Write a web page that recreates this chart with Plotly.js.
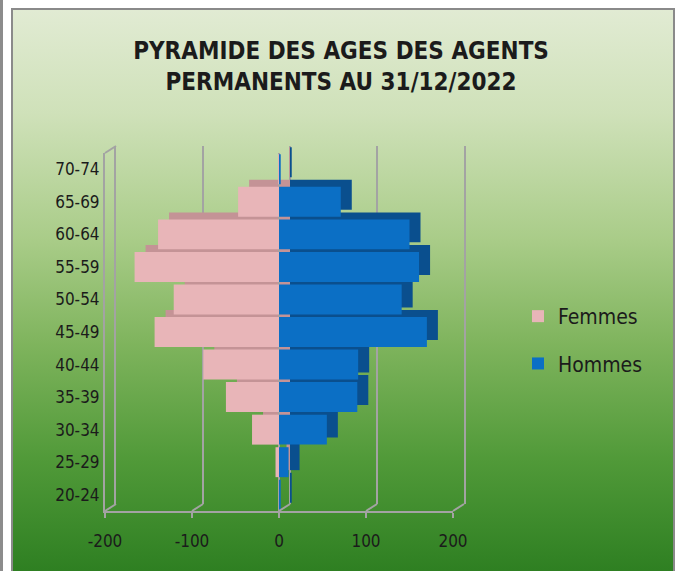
<!DOCTYPE html>
<html>
<head>
<meta charset="utf-8">
<script src="https://cdn.plot.ly/plotly-3.0.1.min.js"></script>
<style>
  html, body { margin:0; padding:0; background:#ffffff; }
  #wrap { position:relative; width:678px; height:571px; overflow:hidden; background:#ffffff; }
  #leftedge { position:absolute; left:0; top:0; width:3px; height:571px; background:#8c8c8c; }
  #box { position:absolute; left:11px; top:8px; width:660px; height:575px;
         border:2px solid #8a8a8a;
         background:linear-gradient(to bottom, #e1ebd3 0%, #cfe1b9 18%, #a9cc88 40%, #7fb45d 58%, #519a39 78%, #2a7c1f 100%); }
  #chart { position:absolute; left:0; top:0; width:678px; height:571px; }
</style>
</head>
<body>
<div id="wrap">
  <div id="leftedge"></div>
  <div id="box"></div>
  <div id="chart"></div>
</div>
<script>
// ---- data ----
const ages   = ['20-24','25-29','30-34','35-39','40-44','45-49','50-54','55-59','60-64','65-69','70-74'];
const femmes = [0, -4, -31, -61, -87, -143, -121, -166, -139, -47, -1];
const hommes = [2, 11, 55, 90, 91, 170, 141, 161, 150, 71, 2];
const xTicks = [-200, -100, 0, 100, 200];
const xTickText = ['-200', '-100', '0', '100', '200'];

// ---- styling / layout constants ----
const W = 678, H = 571;
const XR = [-200, 200];
const front = {x0:105, x1:453, y0:153, y1:511};
const back  = {x0:116, x1:464, y0:146, y1:504};
const pink = '#e8b5b8', pinkDark = '#c49396';
const blue = '#0b6fc5', blueDark = '#0a4f8e';
const grid = '#a3a3a3';
const fontFam = '"Liberation Sans Narrow", "Arial Narrow", "DejaVu Sans Condensed", sans-serif';

function fx(p){ return p / W; }
function fy(p){ return 1 - p / H; }
function xpx(plane, v){ return plane.x0 + (v - XR[0]) / (XR[1] - XR[0]) * (plane.x1 - plane.x0); }

const traces = [
  {type:'bar', orientation:'h', x:femmes, y:ages, xaxis:'x', yaxis:'y',
   marker:{color:pinkDark}, showlegend:false, hoverinfo:'skip'},
  {type:'bar', orientation:'h', x:hommes, y:ages, xaxis:'x', yaxis:'y',
   marker:{color:blueDark}, showlegend:false, hoverinfo:'skip'},
  {type:'bar', orientation:'h', x:femmes, y:ages, xaxis:'x2', yaxis:'y2',
   name:'Femmes', legendgroup:'f', marker:{color:pink}},
  {type:'bar', orientation:'h', x:hommes, y:ages, xaxis:'x2', yaxis:'y2',
   name:'Hommes', legendgroup:'h', marker:{color:blue}}
];

const shapes = [];
// left wall top connector
shapes.push({type:'line', xref:'paper', yref:'paper',
  x0:fx(front.x0), y0:fy(front.y0), x1:fx(back.x0), y1:fy(back.y0),
  line:{color:grid, width:2}});
// floor connectors at each tick
xTicks.forEach(t => {
  shapes.push({type:'line', xref:'paper', yref:'paper',
    x0:fx(xpx(back, t)), y0:fy(back.y1), x1:fx(xpx(front, t)), y1:fy(front.y1),
    line:{color:grid, width:2}});
});

const layout = {
  width:W, height:H,
  margin:{l:0, r:0, t:0, b:0},
  paper_bgcolor:'rgba(0,0,0,0)',
  plot_bgcolor:'rgba(0,0,0,0)',
  barmode:'relative',
  bargap:0.08,
  title:{text:'PYRAMIDE DES AGES DES AGENTS<br>PERMANENTS AU 31/12/2022',
         x:0.503, xanchor:'center', y:1 - 59/H, yanchor:'middle',
         font:{family:fontFam, size:24, color:'#1b1b1b', weight:'bold'}},
  font:{family:fontFam, color:'#1b1b1b'},
  xaxis:{domain:[fx(back.x0), fx(back.x1)], range:XR, anchor:'y',
         tickvals:xTicks, showticklabels:false, ticks:'',
         showgrid:true, gridcolor:grid, gridwidth:2, zeroline:false, showline:false, fixedrange:true},
  yaxis:{domain:[fy(back.y1), fy(back.y0)], range:[-0.5, 10.5], anchor:'x', type:'category',
         showticklabels:false, ticks:'', showgrid:false, zeroline:false,
         showline:true, mirror:true, linecolor:grid, linewidth:2, fixedrange:true},
  xaxis2:{domain:[fx(front.x0), fx(front.x1)], range:XR, anchor:'y2',
          tickvals:xTicks, ticktext:xTickText, ticks:'outside', ticklen:5, tickcolor:grid, tickwidth:2,
          ticklabelstandoff:9,
          tickfont:{size:17, color:'#1b1b1b', family:fontFam},
          showgrid:false, zeroline:true, zerolinecolor:grid, zerolinewidth:2,
          showline:true, linecolor:grid, linewidth:2, fixedrange:true},
  yaxis2:{domain:[fy(front.y1), fy(front.y0)], range:[-0.5, 10.5], anchor:'x2', type:'category',
          tickfont:{size:17, color:'#1b1b1b', family:fontFam}, ticks:'', ticklabelstandoff:0,
          showgrid:false, zeroline:false, showline:true, linecolor:grid, linewidth:2, fixedrange:true},
  legend:{x:fx(518), y:fy(296), xanchor:'left', yanchor:'top',
          font:{size:21, color:'#1b1b1b', family:fontFam},
          bgcolor:'rgba(0,0,0,0)', traceorder:'grouped', tracegroupgap:17, itemwidth:30},
  shapes:shapes
};

Plotly.newPlot('chart', traces, layout, {displayModeBar:false, staticPlot:true});
</script>
</body>
</html>
